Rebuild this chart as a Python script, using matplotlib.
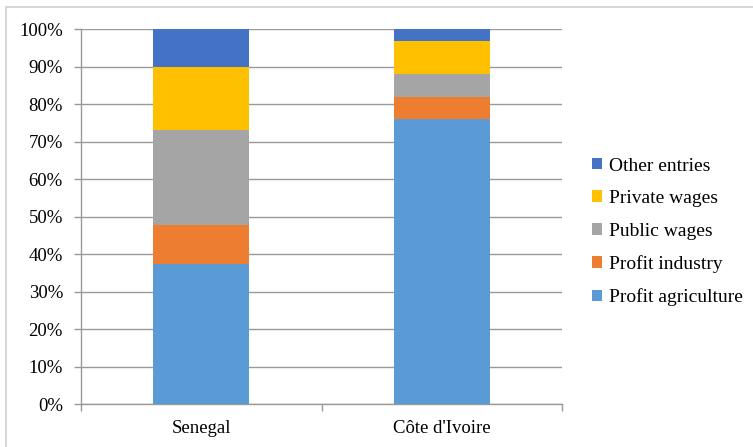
import matplotlib.pyplot as plt
from matplotlib.patches import Rectangle
from matplotlib.ticker import PercentFormatter

# Income shares by source (percent of total)
countries = ['Senegal', "Côte d'Ivoire"]
series_names = ['Profit agriculture', 'Profit industry', 'Public wages',
                'Private wages', 'Other entries']
profit_agriculture = [37.5, 76.1]
profit_industry = [10.2, 5.8]
public_wages = [25.5, 6.3]
private_wages = [16.7, 8.8]
other_entries = [10.1, 3.0]
colors = ['#5b9bd5', '#ed7d31', '#a5a5a5', '#ffc000', '#4472c4']

plt.rcParams['font.family'] = ['Liberation Serif', 'DejaVu Serif']

fig = plt.figure(figsize=(7.53, 4.47), dpi=100)
ax = fig.add_axes([81 / 753, 1 - 404.3 / 447, 481 / 753, 375 / 447])

# outer chart border
fig.patches.append(Rectangle((6 / 753, -0.1), 1.2, 1 - 7 / 447 + 0.1,
                             transform=fig.transFigure, fill=False,
                             edgecolor='#d0d0d0', linewidth=1.2))

x = range(len(countries))
bottom = [0.0, 0.0]
for name, vals, c in zip(series_names,
                         [profit_agriculture, profit_industry, public_wages,
                          private_wages, other_entries], colors):
    ax.bar(x, vals, width=0.4, bottom=bottom, color=c, label=name, zorder=3)
    bottom = [b + v for b, v in zip(bottom, vals)]

ax.set_xlim(-0.5, 1.5)
ax.set_ylim(0, 100)
ax.set_yticks(range(0, 101, 10))
ax.yaxis.set_major_formatter(PercentFormatter(decimals=0))
ax.set_xticks(list(x))
ax.set_xticklabels(countries)
ax.set_xticks([-0.5, 0.5, 1.5], minor=True)
ax.tick_params(axis='x', which='major', length=0, pad=11.5, labelsize=13.5)
ax.tick_params(axis='x', which='minor', length=5, color='#999999', width=1)
ax.tick_params(axis='y', length=5, color='#999999', width=1, labelsize=13.5, pad=8)
ax.grid(axis='y', color='#999999', linewidth=1, zorder=0)

for side in ['top', 'right']:
    ax.spines[side].set_visible(False)
for side in ['left', 'bottom']:
    ax.spines[side].set_color('#999999')
    ax.spines[side].set_linewidth(1)

handles, labels = ax.get_legend_handles_labels()
fig.legend(handles[::-1], labels[::-1], loc='center left',
           bbox_to_anchor=(574 / 753, 1 - 232 / 447), frameon=False,
           fontsize=14, handlelength=0.55, handleheight=0.55,
           handletextpad=0.35, labelspacing=0.8)

fig.savefig('out.png', dpi=100)
